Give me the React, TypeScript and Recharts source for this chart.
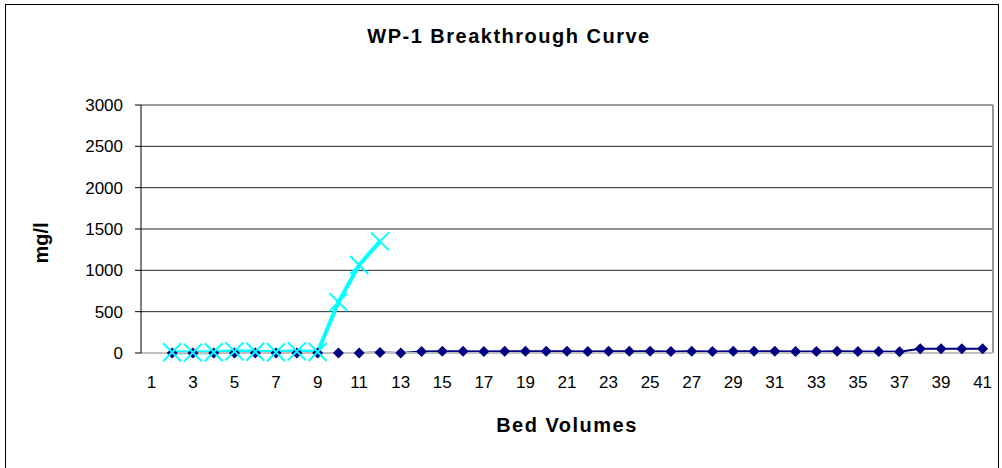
import React from 'react'
import {
  LineChart,
  Line,
  XAxis,
  YAxis,
  CartesianGrid,
  ReferenceLine,
} from 'recharts'

const bedVolumes = [
  1, 2, 3, 4, 5, 6, 7, 8, 9, 10, 11, 12, 13, 14, 15, 16, 17, 18, 19, 20, 21,
  22, 23, 24, 25, 26, 27, 28, 29, 30, 31, 32, 33, 34, 35, 36, 37, 38, 39, 40, 41,
]

// navy diamonds
const seriesA: (number | null)[] = [
  null, 0, 0, 0, 0, 0, 0, 0, 0, 0, 0, 5, 0, 18, 20, 20, 19, 21, 20, 22, 20,
  19, 20, 21, 20, 18, 20, 19, 20, 21, 20, 19, 18, 20, 19, 18, 15, 50, 52, 50, 50,
]

// cyan crosses
const seriesB: (number | null)[] = [
  null, 10, 5, 10, 20, 15, 10, 20, 12, 615, 1065, 1350, null, null, null, null,
  null, null, null, null, null, null, null, null, null, null, null, null, null,
  null, null, null, null, null, null, null, null, null, null, null, null,
]

const xTicks = [1, 3, 5, 7, 9, 11, 13, 15, 17, 19, 21, 23, 25, 27, 29, 31, 33, 35, 37, 39, 41]
const yTicks = [0, 500, 1000, 1500, 2000, 2500, 3000]

const chartData = bedVolumes.map((bv, i) => ({ bv, a: seriesA[i], b: seriesB[i] }))

const font = '"Liberation Sans", Arial, sans-serif'

function Diamond(props: any) {
  const { cx, cy, index } = props
  if (cx == null || cy == null) return <g key={`d${index}`} />
  const s = 5.5
  return (
    <path
      key={`d${index}`}
      d={`M${cx},${cy - s}L${cx + s},${cy}L${cx},${cy + s}L${cx - s},${cy}Z`}
      fill="#000080"
    />
  )
}

function Cross(props: any) {
  const { cx, cy, index } = props
  if (cx == null || cy == null) return <g key={`c${index}`} />
  const s = 9
  return (
    <path
      key={`c${index}`}
      d={`M${cx - s},${cy - s}L${cx + s},${cy + s}M${cx - s},${cy + s}L${cx + s},${cy - s}`}
      stroke="#00FFFF"
      strokeWidth={2}
      fill="none"
    />
  )
}

export default function App() {
  return (
    <div style={{ position: 'absolute', left: 0, top: 0, width: 1002, height: 468, overflow: 'hidden', background: '#fff', fontFamily: font }}>
      <div style={{ position: 'absolute', left: 5, top: 4, width: 994, height: 480, border: '1px solid #000', boxSizing: 'border-box' }} />
      <LineChart
        width={1002}
        height={468}
        data={chartData}
        margin={{ top: 105, right: 9, bottom: 75, left: 81 }}
        style={{ position: 'absolute', left: 0, top: 0 }}
      >
        <CartesianGrid vertical={false} stroke="#222" />
        <XAxis
          dataKey="bv"
          type="number"
          domain={[0.5, 41.5]}
          ticks={xTicks}
          interval={0}
          height={40}
          tickLine={false}
          tickSize={0}
          tickMargin={23}
          axisLine={{ stroke: '#c0c0c0', strokeWidth: 2 }}
          tick={{ fontSize: 17, fill: '#000', fontFamily: font }}
        />
        <YAxis
          domain={[0, 3000]}
          ticks={yTicks}
          width={60}
          tickSize={6}
          tickMargin={12}
          axisLine={{ stroke: '#000' }}
          tickLine={{ stroke: '#000' }}
          tick={{ fontSize: 17, fill: '#000', fontFamily: font }}
        />
        <ReferenceLine y={3000} stroke="#999" strokeWidth={2} />
        <ReferenceLine x={41.5} stroke="#999" strokeWidth={2} />
        <Line
          dataKey="a"
          stroke="#000080"
          strokeWidth={2}
          dot={Diamond}
          activeDot={false}
          isAnimationActive={false}
        />
        <Line
          dataKey="b"
          stroke="#00FFFF"
          strokeWidth={4}
          dot={Cross}
          activeDot={false}
          isAnimationActive={false}
        />
      </LineChart>
      <div style={{ position: 'absolute', left: 509, top: 26, transform: 'translateX(-50%)', whiteSpace: 'nowrap', fontSize: 20, lineHeight: '20px', fontWeight: 'bold', letterSpacing: 1.5 }}>
        WP-1 Breakthrough Curve
      </div>
      <div style={{ position: 'absolute', left: 567, top: 415, transform: 'translateX(-50%)', whiteSpace: 'nowrap', fontSize: 20, lineHeight: '20px', fontWeight: 'bold', letterSpacing: 1.5 }}>
        Bed Volumes
      </div>
      <div style={{ position: 'absolute', left: 41, top: 243, transform: 'translate(-50%, -50%) rotate(-90deg)', whiteSpace: 'nowrap', fontSize: 20, lineHeight: '20px', fontWeight: 'bold' }}>
        mg/l
      </div>
    </div>
  )
}
